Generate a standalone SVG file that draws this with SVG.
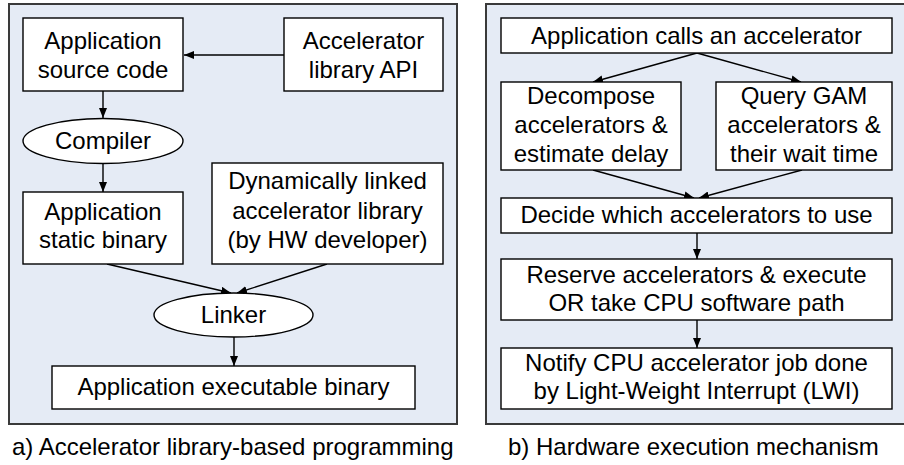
<svg xmlns="http://www.w3.org/2000/svg" width="904" height="465" viewBox="0 0 904 465">
<defs>
<marker id="ah" markerWidth="10" markerHeight="8" refX="10" refY="4" orient="auto" markerUnits="userSpaceOnUse">
<path d="M0,0 L10,4 L0,8 Z" fill="#000"/>
</marker>
</defs>
<style>
.panel{fill:#e5ebf5;stroke:#3a3a3a;stroke-width:2}
.box{fill:#fff;stroke:#000;stroke-width:1.4}
.t{font-family:"Liberation Sans",Arial,sans-serif;font-size:24px;fill:#000;text-anchor:middle}
.cap{font-family:"Liberation Sans",Arial,sans-serif;font-size:24px;fill:#000}
.c{fill:none;stroke:#000;stroke-width:1.4;marker-end:url(#ah)}
</style>
<rect class="panel" x="9" y="4" width="448" height="420"/>
<rect class="panel" x="486" y="4" width="430" height="420"/>
<g id="connectors">
<line class="c" x1="284" y1="55" x2="184" y2="55"/>
<line class="c" x1="103" y1="91" x2="103" y2="118"/>
<line class="c" x1="103" y1="163" x2="103" y2="192"/>
<line class="c" x1="107" y1="264" x2="231" y2="293"/>
<line class="c" x1="327" y1="264" x2="237" y2="293"/>
<line class="c" x1="234" y1="337" x2="234" y2="366"/>
<line class="c" x1="697" y1="53" x2="593" y2="82"/>
<line class="c" x1="697" y1="53" x2="801" y2="82"/>
<line class="c" x1="593" y1="170" x2="694" y2="198"/>
<line class="c" x1="802" y1="170" x2="699" y2="198"/>
<line class="c" x1="697" y1="233" x2="697" y2="259"/>
<line class="c" x1="697" y1="320" x2="697" y2="348"/>
</g>
<g id="src">
<rect class="box" x="23" y="18" width="160" height="73"/>
<text class="t" x="103" y="49">Application</text>
<text class="t" x="103" y="77.5">source code</text>
</g>
<g id="api">
<rect class="box" x="284" y="18" width="159" height="73"/>
<text class="t" x="363.5" y="49">Accelerator</text>
<text class="t" x="363.5" y="77.5">library API</text>
</g>
<g id="compiler">
<ellipse class="box" cx="103" cy="141" rx="80" ry="22.5"/>
<text class="t" x="103" y="149">Compiler</text>
</g>
<g id="static">
<rect class="box" x="23" y="192" width="160" height="72"/>
<text class="t" x="103" y="220">Application</text>
<text class="t" x="103" y="248">static binary</text>
</g>
<g id="dynlib">
<rect class="box" x="212" y="163" width="231" height="101"/>
<text class="t" x="327.5" y="189">Dynamically linked</text>
<text class="t" x="327.5" y="219">accelerator library</text>
<text class="t" x="327.5" y="248">(by HW developer)</text>
</g>
<g id="linker">
<ellipse class="box" cx="233.5" cy="315" rx="79.5" ry="22"/>
<text class="t" x="233.5" y="323">Linker</text>
</g>
<g id="exe">
<rect class="box" x="52" y="366" width="363" height="43"/>
<text class="t" x="233.5" y="395">Application executable binary</text>
</g>
<g id="calls">
<rect class="box" x="501" y="18" width="391" height="35"/>
<text class="t" x="696.5" y="43.5">Application calls an accelerator</text>
</g>
<g id="decompose">
<rect class="box" x="501" y="82" width="180" height="88"/>
<text class="t" x="591" y="104">Decompose</text>
<text class="t" x="591" y="133">accelerators &amp;</text>
<text class="t" x="591" y="162">estimate delay</text>
</g>
<g id="query">
<rect class="box" x="716" y="82" width="176" height="88"/>
<text class="t" x="804" y="104">Query GAM</text>
<text class="t" x="804" y="133">accelerators &amp;</text>
<text class="t" x="804" y="162">their wait time</text>
</g>
<g id="decide">
<rect class="box" x="501" y="198" width="391" height="35"/>
<text class="t" x="696.5" y="223">Decide which accelerators to use</text>
</g>
<g id="reserve">
<rect class="box" x="501" y="259" width="391" height="61"/>
<text class="t" x="696.5" y="283">Reserve accelerators &amp; execute</text>
<text class="t" x="696.5" y="311">OR take CPU software path</text>
</g>
<g id="notify">
<rect class="box" x="501" y="348" width="391" height="61"/>
<text class="t" x="696.5" y="371">Notify CPU accelerator job done</text>
<text class="t" x="696.5" y="399">by Light-Weight Interrupt (LWI)</text>
</g>
<text class="cap" x="12" y="455">a) Accelerator library-based programming</text>
<text class="cap" x="508" y="455">b) Hardware execution mechanism</text>
</svg>
